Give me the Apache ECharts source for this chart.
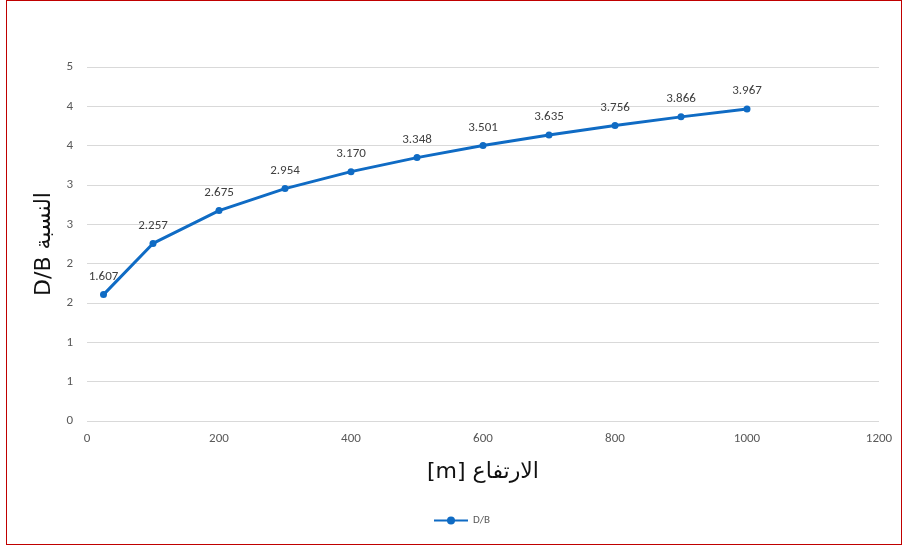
<!DOCTYPE html>
<html>
<head>
<meta charset="utf-8">
<script src="https://cdn.jsdelivr.net/npm/echarts@6/dist/echarts.min.js"></script>
<style>
html,body{margin:0;padding:0;background:#fff;}
#frame{position:absolute;left:6px;top:0;width:896px;height:545px;border:1px solid #c00000;box-sizing:border-box;}
#chart{position:absolute;left:0;top:0;width:904px;height:547px;}
</style>
</head>
<body>
<div id="frame"></div>
<div id="chart"></div>
<script>
const seriesName = 'D/B';
const heights = [25, 100, 200, 300, 400, 500, 600, 700, 800, 900, 1000];
const ratios = [1.607, 2.257, 2.675, 2.954, 3.170, 3.348, 3.501, 3.635, 3.756, 3.866, 3.967];
const yTickLabels = ['0', '1', '1', '2', '2', '3', '3', '4', '4', '5'];
const xTickLabels = ['0', '200', '400', '600', '800', '1000', '1200'];
const xAxisTitle = '[m] الارتفاع';
const yAxisTitle = 'D/B النسبة';

const chart = echarts.init(document.getElementById('chart'), null, {renderer: 'canvas'});
const font = 'Calibri, Carlito, "Liberation Sans", "Noto Sans", sans-serif';
const titleFont = '"DejaVu Sans", "Noto Sans", sans-serif';
const blue = '#0F6BC4';
chart.setOption({
  animation: false,
  backgroundColor: 'transparent',
  textStyle: {fontFamily: font},
  grid: {left: 87, right: 25, top: 67, bottom: 126, containLabel: false},
  xAxis: {
    type: 'value', min: 0, max: 1200, interval: 200,
    name: xAxisTitle, nameLocation: 'middle', nameGap: 40,
    nameTextStyle: {fontSize: 22, color: '#111', fontFamily: titleFont},
    axisLine: {show: false}, axisTick: {show: false},
    axisLabel: {color: '#595959', fontSize: 13, margin: 11,
      formatter: (v) => xTickLabels[Math.round(v / 200)]},
    splitLine: {show: false}
  },
  yAxis: {
    type: 'value', min: 0, max: 4.5, interval: 0.5,
    name: yAxisTitle, nameLocation: 'middle', nameRotate: 90, nameGap: 32,
    nameTextStyle: {fontSize: 22, color: '#111', fontFamily: titleFont},
    axisLine: {show: false}, axisTick: {show: false},
    axisLabel: {color: '#595959', fontSize: 13, margin: 14,
      formatter: (v) => yTickLabels[Math.round(v / 0.5)]},
    splitLine: {show: true, lineStyle: {color: '#d9d9d9', width: 1}}
  },
  legend: {
    bottom: 16, left: 428, itemWidth: 34, itemHeight: 10, itemGap: 4,
    textStyle: {fontSize: 11, color: '#595959'},
    data: [seriesName]
  },
  series: [{
    name: seriesName, type: 'line',
    data: heights.map((h, i) => [h, ratios[i]]),
    lineStyle: {color: blue, width: 3},
    itemStyle: {color: blue},
    symbol: 'circle', symbolSize: 7,
    label: {show: true, position: 'top', distance: 8, color: '#404040', fontSize: 13,
      formatter: (p) => p.value[1].toFixed(3)}
  }]
});
</script>
</body>
</html>
